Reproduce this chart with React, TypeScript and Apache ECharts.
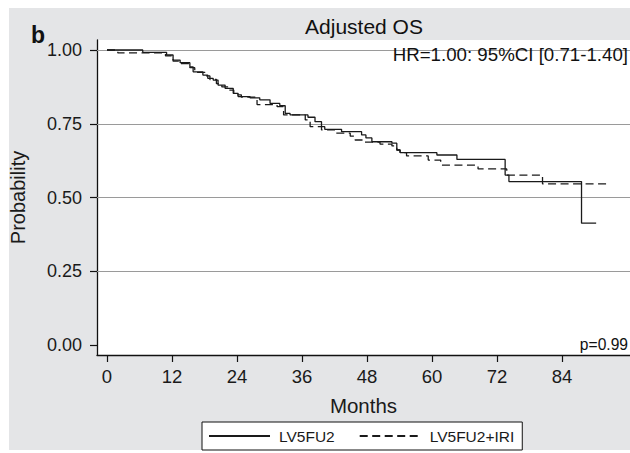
import React, { useEffect, useRef } from "react";
import * as echarts from "echarts";

// LV5FU2 (solid) — Kaplan–Meier steps: month of drop, survival after drop
const solidMonths = [0, 6.6, 11.0, 12.2, 13.5, 15.3, 15.9, 17.7, 18.6, 19.6, 20.5, 21.8, 23.3, 24.2, 26.4, 28.2, 30.1, 31.9, 32.9, 33.8, 37.1, 38.4, 39.6, 40.2, 43.3, 47.0, 47.8, 48.9, 52.6, 53.5, 54.1, 60.9, 64.6, 73.5, 74.2, 87.6, 90.3];
const solidProb = [1.0, 0.992, 0.983, 0.966, 0.957, 0.943, 0.926, 0.915, 0.904, 0.898, 0.881, 0.87, 0.853, 0.842, 0.838, 0.831, 0.819, 0.811, 0.785, 0.78, 0.772, 0.757, 0.74, 0.731, 0.723, 0.712, 0.702, 0.689, 0.684, 0.661, 0.652, 0.644, 0.629, 0.576, 0.554, 0.413, 0.413];

// LV5FU2+IRI (dashed)
const dashedMonths = [0, 2.0, 10.8, 12.2, 13.5, 15.3, 16.2, 18.1, 19.0, 20.2, 21.2, 22.4, 23.4, 24.8, 27.7, 31.4, 32.6, 36.6, 37.5, 39.6, 42.1, 44.9, 45.8, 47.6, 50.4, 52.6, 53.5, 54.1, 55.3, 59.3, 61.6, 68.5, 73.8, 80.4, 92.2];
const dashedProb = [1.0, 0.99, 0.98, 0.962, 0.954, 0.94, 0.924, 0.912, 0.9, 0.886, 0.875, 0.864, 0.848, 0.84, 0.815, 0.808, 0.78, 0.763, 0.74, 0.729, 0.718, 0.708, 0.695, 0.688, 0.681, 0.675, 0.661, 0.652, 0.641, 0.627, 0.61, 0.597, 0.576, 0.546, 0.546];

const xTicks = [0, 12, 24, 36, 48, 60, 72, 84];
const yTicks = [0, 0.25, 0.5, 0.75, 1.0];
const gridLines = [0.25, 0.5, 0.75, 1.0];

const seriesNames = ["LV5FU2", "LV5FU2+IRI"];
const titleText = "Adjusted OS";
const hrText = "HR=1.00: 95%CI [0.71-1.40]";
const pText = "p=0.99";
const panelLetter = "b";

const FONT = '"Liberation Sans", Arial, Helvetica, sans-serif';

export default function App() {
  const ref = useRef<HTMLDivElement>(null);

  useEffect(() => {
    if (!ref.current) return;
    const chart = echarts.init(ref.current, null, { renderer: "svg" });

    const solidData = solidMonths.map((m, i) => [m, solidProb[i]]);
    const dashedData = dashedMonths.map((m, i) => [m, dashedProb[i]]);

    chart.setOption({
      animation: false,
      backgroundColor: "#ffffff",
      textStyle: { fontFamily: FONT },
      grid: {
        left: 97,
        top: 40,
        right: 0,
        bottom: 98,
        show: true,
        backgroundColor: "#ffffff",
        borderWidth: 0,
        containLabel: false,
        outerBoundsMode: "none",
      },
      xAxis: {
        type: "value",
        min: -1.846,
        max: 96.55,
        axisLine: { show: true, onZero: false, lineStyle: { color: "#111", width: 1.3 } },
        axisTick: { show: true, length: 7, customValues: xTicks, lineStyle: { color: "#111", width: 1.2 } },
        axisLabel: { customValues: xTicks, fontSize: 18.5, color: "#1a1a1a", margin: 12, fontFamily: FONT },
        splitLine: { show: false },
        name: "Months",
        nameLocation: "middle",
        nameGap: 40,
        nameTextStyle: { fontSize: 20.5, color: "#1a1a1a", fontFamily: FONT },
      },
      yAxis: {
        type: "value",
        min: -0.0339,
        max: 1.0339,
        axisLine: { show: true, onZero: false, lineStyle: { color: "#111", width: 1.3 } },
        axisTick: { show: true, length: 7, customValues: yTicks, lineStyle: { color: "#111", width: 1.2 } },
        axisLabel: {
          customValues: yTicks,
          fontSize: 18,
          color: "#1a1a1a",
          margin: 15,
          fontFamily: FONT,
          formatter: (v: number) => v.toFixed(2),
        },
        splitLine: { show: false },
        name: "Probability",
        nameLocation: "middle",
        nameGap: 69,
        nameTextStyle: { fontSize: 20, color: "#1a1a1a", fontFamily: FONT },
      },
      legend: {
        left: 202,
        top: 422,
        orient: "horizontal",
        itemWidth: 61,
        itemHeight: 14,
        itemGap: 24,
        padding: [6, 8, 6, 6],
        backgroundColor: "#ffffff",
        borderColor: "#111",
        borderWidth: 1,
        borderRadius: 0,
        itemStyle: { color: "rgba(0,0,0,0)", opacity: 0, borderWidth: 0 },
        textStyle: { fontSize: 15.5, color: "#1a1a1a", fontFamily: FONT, padding: [0, 0, 0, 4] },
        data: seriesNames,
      },
      graphic: [
        {
          type: "rect",
          z: -100,
          silent: true,
          shape: { x: 9, y: 8, width: 621, height: 442 },
          style: { fill: "#e4e5e7" },
        },
        {
          type: "text",
          x: 31,
          y: 35,
          style: { text: panelLetter, font: `bold 23px ${FONT}`, fill: "#111", textAlign: "left", textVerticalAlign: "middle" },
        },
        {
          type: "text",
          x: 364,
          y: 26,
          style: { text: titleText, font: `21px ${FONT}`, fill: "#111", textAlign: "center", textVerticalAlign: "middle" },
        },
        {
          type: "text",
          x: 628,
          y: 54,
          z: 10,
          style: { text: hrText, font: `18.7px ${FONT}`, fill: "#111", textAlign: "right", textVerticalAlign: "middle" },
        },
        {
          type: "text",
          x: 628,
          y: 344,
          z: 10,
          style: { text: pText, font: `15.6px ${FONT}`, fill: "#111", textAlign: "right", textVerticalAlign: "middle" },
        },
      ],
      series: [
        {
          type: "line",
          name: seriesNames[0],
          step: "end",
          symbol: "none",
          data: solidData,
          lineStyle: { color: "#1a1a1a", width: 1.3, type: "solid" },
          itemStyle: { color: "#1a1a1a" },
          z: 3,
          markLine: {
            silent: true,
            symbol: ["none", "none"],
            label: { show: false },
            lineStyle: { color: "#9a9a9a", width: 1, type: "solid" },
            data: gridLines.map((v) => ({ yAxis: v })),
            z: 1,
          },
        },
        {
          type: "line",
          name: seriesNames[1],
          step: "end",
          symbol: "none",
          data: dashedData,
          lineStyle: { color: "#1a1a1a", width: 1.3, type: [8, 4.5] },
          itemStyle: { color: "#1a1a1a" },
          z: 3,
        },
      ],
    });

    return () => chart.dispose();
  }, []);

  return (
    <div style={{ position: "fixed", left: 0, top: 0, width: 630, height: 453, background: "#fff" }}>
      <div ref={ref} style={{ width: 630, height: 453 }} />
    </div>
  );
}
